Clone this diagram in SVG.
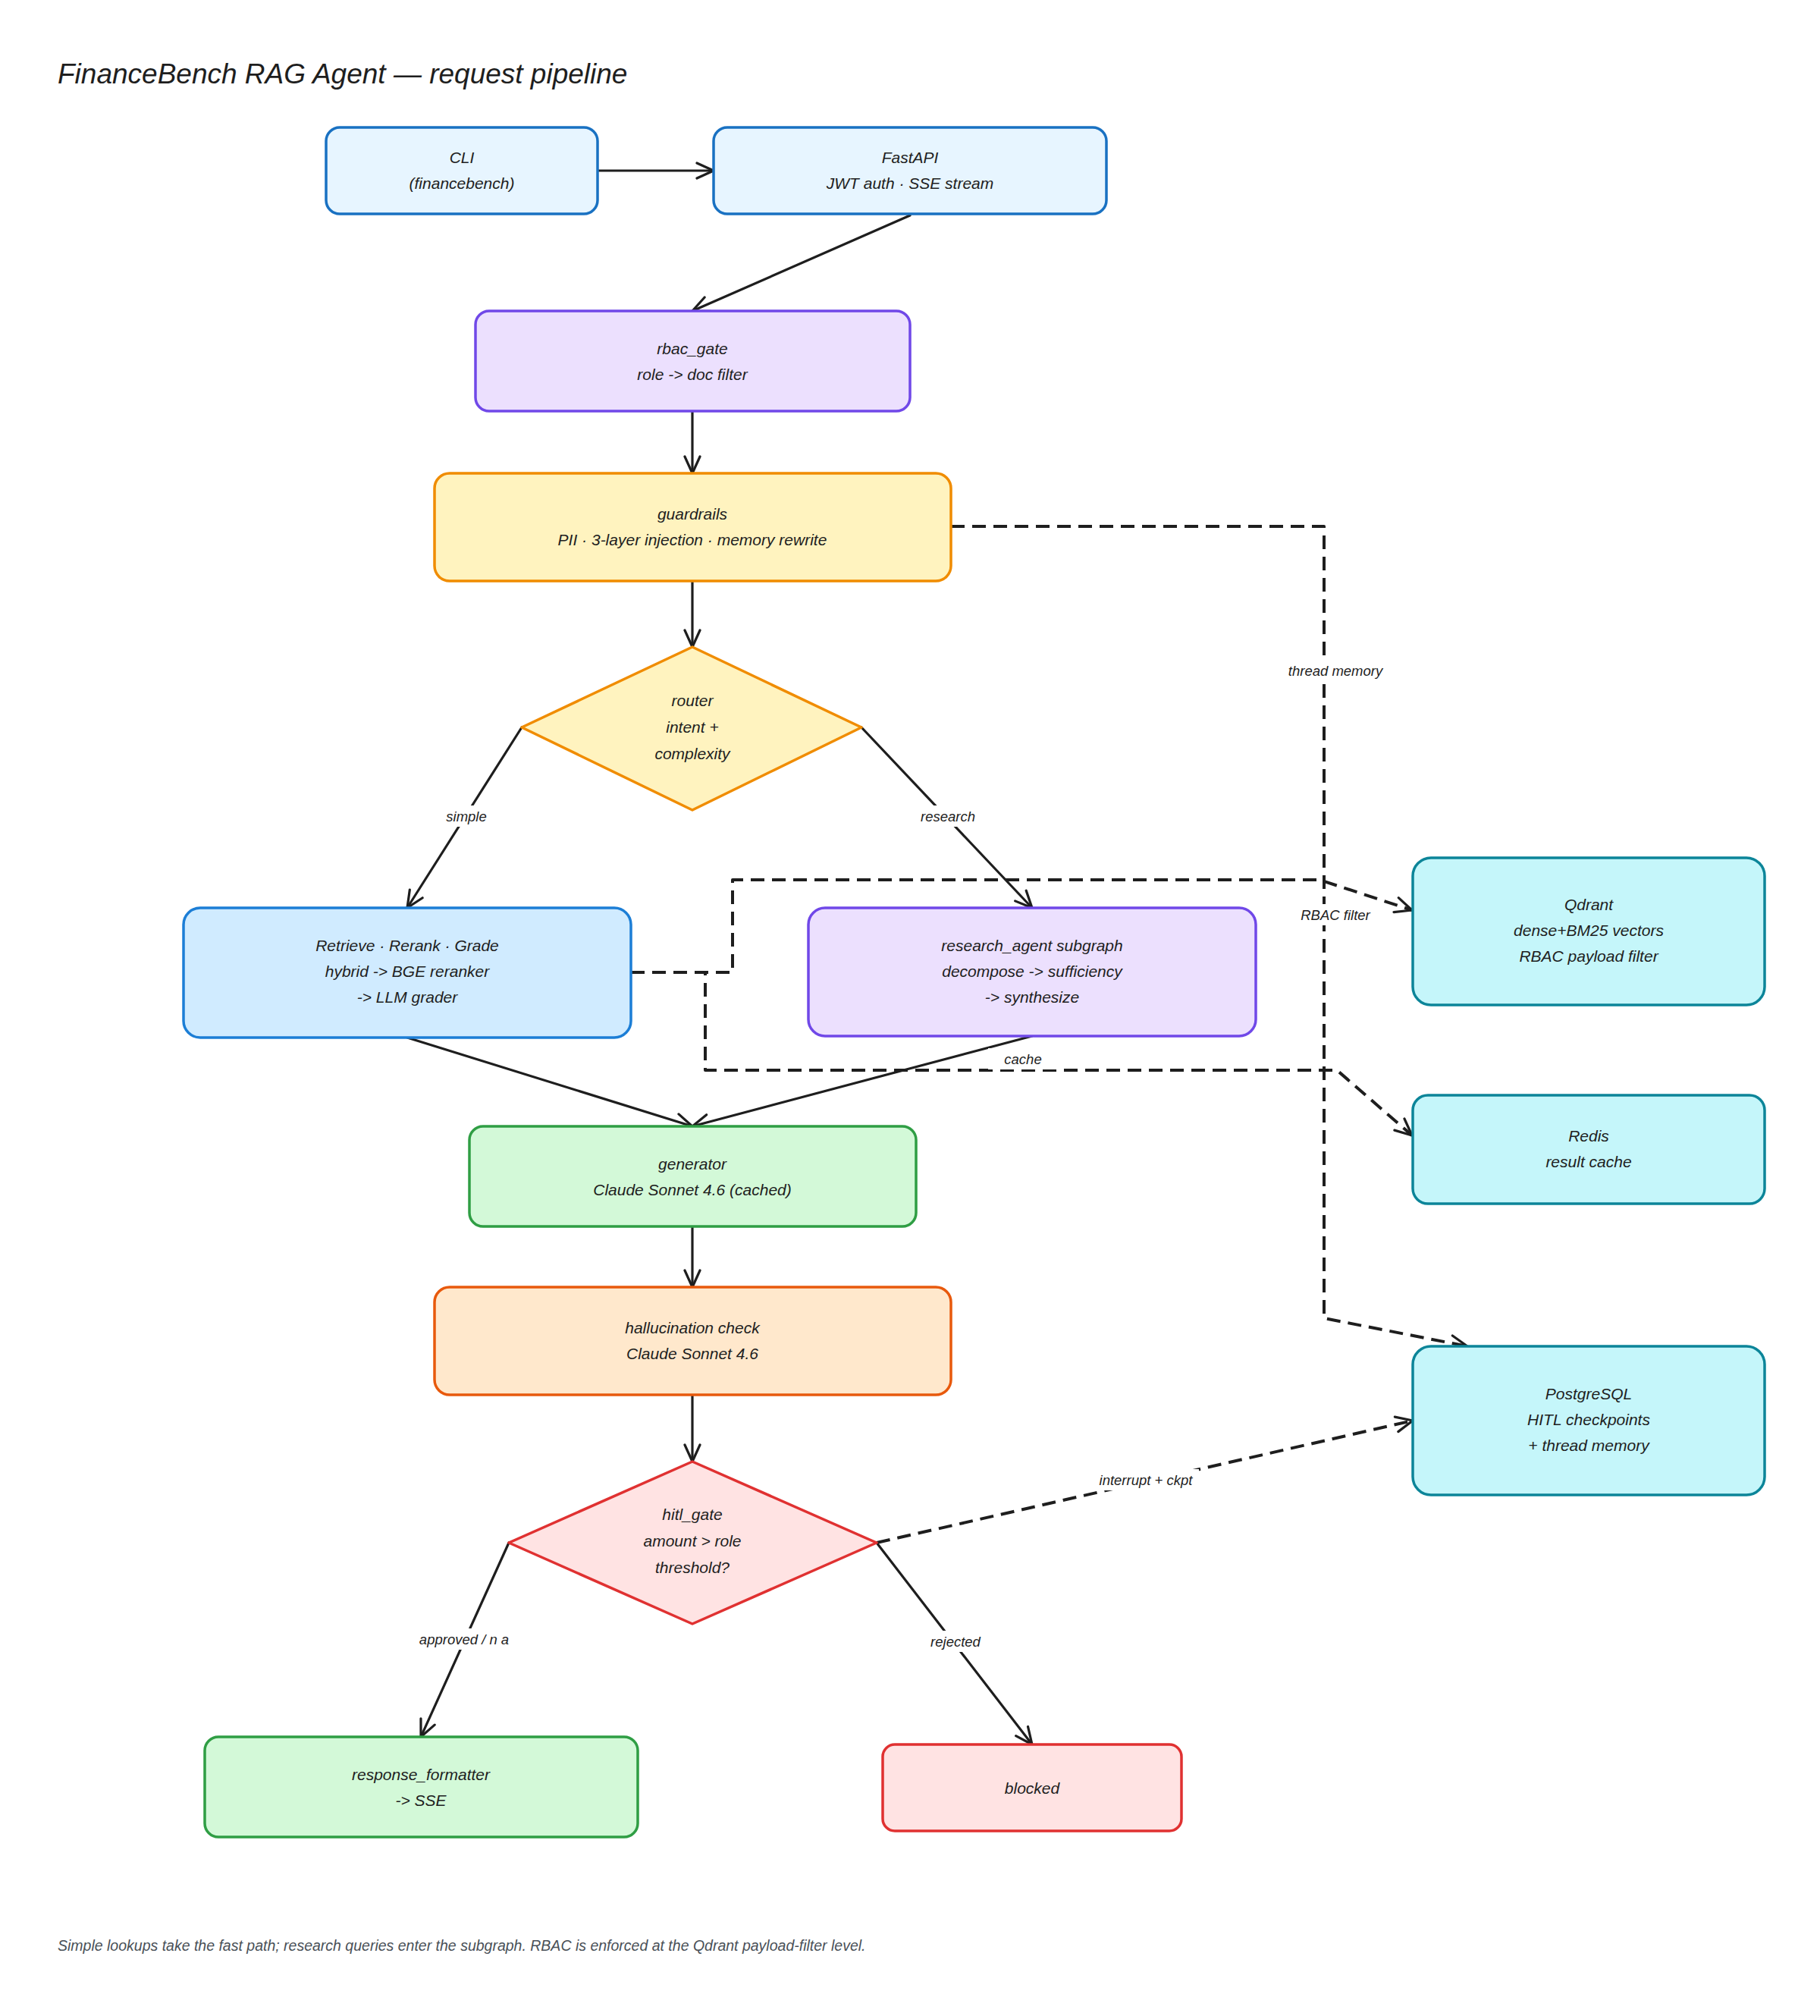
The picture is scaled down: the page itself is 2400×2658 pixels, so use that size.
<svg xmlns="http://www.w3.org/2000/svg" width="2400" height="2658" viewBox="0 0 2400 2658">
<defs>
<style>
.t{font-family:"Liberation Sans","DejaVu Sans",sans-serif;font-size:21px;fill:#1e1e1e;text-anchor:middle;dominant-baseline:central;font-style:italic}
.lbl{font-family:"Liberation Sans","DejaVu Sans",sans-serif;font-size:18.5px;fill:#1e1e1e;text-anchor:middle;dominant-baseline:central;font-style:italic}
.title{font-family:"Liberation Sans","DejaVu Sans",sans-serif;font-size:37px;fill:#1e1e1e;font-style:italic}
.foot{font-family:"Liberation Sans","DejaVu Sans",sans-serif;font-size:19.5px;fill:#495057;font-style:italic}
.n{stroke-width:3.5;stroke-linejoin:round}
.blue{fill:#e7f5ff;stroke:#1971c2}
.blue2{fill:#d0ebff;stroke:#1c7ed6}
.purple{fill:#ece0fe;stroke:#7048e8}
.yellow{fill:#fff3bf;stroke:#f08c00}
.green{fill:#d3f9d8;stroke:#2f9e44}
.orange{fill:#ffe8cc;stroke:#e8590c}
.red{fill:#ffe3e3;stroke:#e03131}
.cyan{fill:#c5f6fa;stroke:#0c8599}
.e{fill:none;stroke:#1e1e1e;stroke-width:3.2;stroke-linecap:round;stroke-linejoin:round;marker-end:url(#arr)}
.d{fill:none;stroke:#1e1e1e;stroke-width:4;stroke-dasharray:18 10;stroke-linejoin:round;marker-end:url(#arr)}
.bg{fill:#ffffff}
</style>
<marker id="arr" viewBox="0 0 30 24" markerWidth="30" markerHeight="24" refX="24" refY="12" orient="auto" markerUnits="userSpaceOnUse">
<path d="M2,2 L24,12 L2,22" fill="none" stroke="#1e1e1e" stroke-width="3.2" stroke-linecap="round" stroke-linejoin="round"/>
</marker>
</defs>
<rect width="2400" height="2658" fill="#ffffff"/>
<text class="title" x="76" y="110">FinanceBench RAG Agent — request pipeline</text>

<g id="connectors">
<path class="e" d="M788,225 L941,225"/>
<path class="e" d="M1200,284 L913,410"/>
<path class="e" d="M913,543 L913,624"/>
<path class="e" d="M913,766 L913,853"/>
<path class="e" d="M688,959 L537,1197"/>
<path class="e" d="M1136,959 L1361,1197"/>
<path class="e" d="M537,1368 L913,1485"/>
<path class="e" d="M1361,1366 L913,1485"/>
<path class="e" d="M913,1617 L913,1697"/>
<path class="e" d="M913,1839 L913,1927"/>
<path class="e" d="M671,2034 L555,2290"/>
<path class="e" d="M1156,2034 L1361,2300"/>
<path class="d" d="M1156,2034 L1863,1873"/>
<path class="d" d="M1254,694 L1746,694 L1746,1738 L1935,1775"/>
<path class="d" d="M832,1282 L966,1282 L966,1160 L1740,1160 L1862,1200"/>
<path class="d" d="M832,1282 L930,1282 L930,1411 L1763,1411 L1862,1497"/>
<rect class="bg" x="586" y="1062" width="58" height="28"/>
<text class="lbl" x="615" y="1076">simple</text>
<rect class="bg" x="1212" y="1062" width="76" height="28"/>
<text class="lbl" x="1250" y="1076">research</text>
<rect class="bg" x="1697" y="870" width="128" height="28"/>
<text class="lbl" x="1761" y="884">thread memory</text>
<rect class="bg" x="1709" y="1192" width="104" height="28"/>
<text class="lbl" x="1761" y="1206">RBAC filter</text>
<rect class="bg" x="1303" y="1382" width="92" height="28"/>
<text class="lbl" x="1349" y="1396">cache</text>
<rect class="bg" x="1441" y="1937" width="140" height="28"/>
<text class="lbl" x="1511" y="1951">interrupt + ckpt</text>
<rect class="bg" x="549" y="2147" width="126" height="28"/>
<text class="lbl" x="612" y="2161">approved / n a</text>
<rect class="bg" x="1220" y="2150" width="80" height="28"/>
<text class="lbl" x="1260" y="2164">rejected</text>
</g>

<g id="cli"><rect class="n blue" x="430" y="168" width="358" height="114" rx="18"/>
<text class="t" x="609" y="207">CLI</text><text class="t" x="609" y="241">(financebench)</text></g>
<g id="fastapi"><rect class="n blue" x="941" y="168" width="518" height="114" rx="18"/>
<text class="t" x="1200" y="207">FastAPI</text><text class="t" x="1200" y="241">JWT auth · SSE stream</text></g>
<g id="rbac_gate"><rect class="n purple" x="627" y="410" width="573" height="132" rx="18"/>
<text class="t" x="913" y="459">rbac_gate</text><text class="t" x="913" y="493">role -&gt; doc filter</text></g>
<g id="guardrails"><rect class="n yellow" x="573" y="624" width="681" height="142" rx="20"/>
<text class="t" x="913" y="677">guardrails</text><text class="t" x="913" y="711">PII · 3-layer injection · memory rewrite</text></g>
<g id="router"><polygon class="n yellow" points="913,853 1136,959 913,1068 688,959"/>
<text class="t" x="913" y="923">router</text><text class="t" x="913" y="958">intent +</text><text class="t" x="913" y="993">complexity</text></g>
<g id="retrieve"><rect class="n blue2" x="242" y="1197" width="590" height="171" rx="22"/>
<text class="t" x="537" y="1246">Retrieve · Rerank · Grade</text><text class="t" x="537" y="1280">hybrid -&gt; BGE reranker</text><text class="t" x="537" y="1314">-&gt; LLM grader</text></g>
<g id="research_agent"><rect class="n purple" x="1066" y="1197" width="590" height="169" rx="22"/>
<text class="t" x="1361" y="1246">research_agent subgraph</text><text class="t" x="1361" y="1280">decompose -&gt; sufficiency</text><text class="t" x="1361" y="1314">-&gt; synthesize</text></g>
<g id="qdrant"><rect class="n cyan" x="1863" y="1131" width="464" height="194" rx="24"/>
<text class="t" x="2095" y="1192">Qdrant</text><text class="t" x="2095" y="1226">dense+BM25 vectors</text><text class="t" x="2095" y="1260">RBAC payload filter</text></g>
<g id="redis"><rect class="n cyan" x="1863" y="1444" width="464" height="143" rx="20"/>
<text class="t" x="2095" y="1497">Redis</text><text class="t" x="2095" y="1531">result cache</text></g>
<g id="generator"><rect class="n green" x="619" y="1485" width="589" height="132" rx="18"/>
<text class="t" x="913" y="1534">generator</text><text class="t" x="913" y="1568">Claude Sonnet 4.6 (cached)</text></g>
<g id="hallucination"><rect class="n orange" x="573" y="1697" width="681" height="142" rx="20"/>
<text class="t" x="913" y="1750">hallucination check</text><text class="t" x="913" y="1784">Claude Sonnet 4.6</text></g>
<g id="hitl_gate"><polygon class="n red" points="913,1927 1156,2034 913,2141 671,2034"/>
<text class="t" x="913" y="1996">hitl_gate</text><text class="t" x="913" y="2031">amount &gt; role</text><text class="t" x="913" y="2066">threshold?</text></g>
<g id="postgresql"><rect class="n cyan" x="1863" y="1775" width="464" height="196" rx="24"/>
<text class="t" x="2095" y="1837">PostgreSQL</text><text class="t" x="2095" y="1871">HITL checkpoints</text><text class="t" x="2095" y="1905">+ thread memory</text></g>
<g id="response_formatter"><rect class="n green" x="270" y="2290" width="571" height="132" rx="18"/>
<text class="t" x="555" y="2339">response_formatter</text><text class="t" x="555" y="2373">-&gt; SSE</text></g>
<g id="blocked"><rect class="n red" x="1164" y="2300" width="394" height="114" rx="16"/>
<text class="t" x="1361" y="2357">blocked</text></g>

<text class="foot" x="76" y="2572">Simple lookups take the fast path; research queries enter the subgraph. RBAC is enforced at the Qdrant payload-filter level.</text>
</svg>
